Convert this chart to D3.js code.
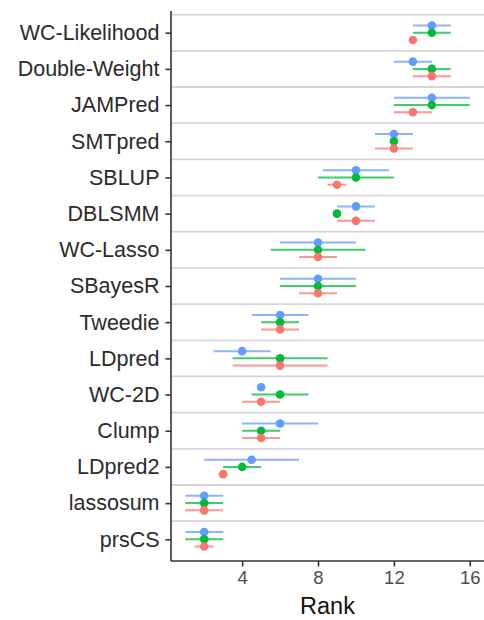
<!DOCTYPE html>
<html>
<head>
<meta charset="utf-8">
<script src="https://cdn.jsdelivr.net/npm/d3@7"></script>
<style>
  html, body { margin: 0; padding: 0; background: #fff; }
  svg { display: block; font-family: "Liberation Sans", Arial, Helvetica, sans-serif; }
</style>
</head>
<body>
<script>
// Methods, top to bottom
const methods = ["WC-Likelihood", "Double-Weight", "JAMPred", "SMTpred", "SBLUP", "DBLSMM",
  "WC-Lasso", "SBayesR", "Tweedie", "LDpred", "WC-2D", "Clump", "LDpred2", "lassosum", "prsCS"];

// Series order within a row (top to bottom) and their colours
const seriesNames = ["blue", "green", "red"];
const seriesColors = ["#619CFF", "#00BA38", "#F8766D"];

// Median rank and interval per method, one array per series
const blueRank = [14, 13, 14, 12, 10, 10, 8, 8, 6, 4, 5, 6, 4.5, 2, 2];
const blueLow  = [13, 12, 12, 11, 8.25, 9, 6, 6, 4.5, 2.5, 5, 4, 2, 1, 1];
const blueHigh = [15, 14, 16, 13, 11.75, 11, 10, 10, 7.5, 5.5, 5, 8, 7, 3, 3];

const greenRank = [14, 14, 14, 12, 10, 9, 8, 8, 6, 6, 6, 5, 4, 2, 2];
const greenLow  = [13, 13, 12, 12, 8, 9, 5.5, 6, 5, 3.5, 4.5, 4, 3, 1, 1];
const greenHigh = [15, 15, 16, 12, 12, 9, 10.5, 10, 7, 8.5, 7.5, 6, 5, 3, 3];

const redRank = [13, 14, 13, 12, 9, 10, 8, 8, 6, 6, 5, 5, 3, 2, 2];
const redLow  = [13, 13, 12, 11, 8.5, 9, 7, 7, 5, 3.5, 4, 4, 3, 1, 1.5];
const redHigh = [13, 15, 14, 13, 9.5, 11, 9, 9, 7, 8.5, 6, 6, 3, 3, 2.5];

const xTicks = [4, 8, 12, 16];
const xTitle = "Rank";

const rows = [];
[[blueRank, blueLow, blueHigh], [greenRank, greenLow, greenHigh], [redRank, redLow, redHigh]]
  .forEach(([r, lo, hi], s) => {
    methods.forEach((m, i) => rows.push({ method: m, series: seriesNames[s], color: seriesColors[s],
      rank: r[i], low: lo[i], high: hi[i] }));
  });

const W = 484, H = 620;
const margin = { top: 11, right: 0, bottom: 59, left: 171 };
const iw = W - margin.left - margin.right;
const ih = H - margin.top - margin.bottom;

const svg = d3.select("body").append("svg").attr("width", W).attr("height", H);
const g = svg.append("g").attr("transform", `translate(${margin.left},${margin.top})`);

const x = d3.scaleLinear().domain([0.25, 16.75]).range([0, iw]);
const y = d3.scalePoint().domain(methods).range([0, ih]).padding(0.6);
const step = y.step();
const dodge = d3.scalePoint().domain(seriesNames).range([-0.2 * step, 0.2 * step]);

// Row separators
g.append("g").selectAll("line").data(methods).join("line")
  .attr("x1", 0).attr("x2", iw)
  .attr("y1", d => y(d) - step / 2).attr("y2", d => y(d) - step / 2)
  .attr("stroke", "#d6d6d6").attr("stroke-width", 1.8);

// Interval bars
g.append("g").selectAll("line").data(rows.filter(d => d.high > d.low)).join("line")
  .attr("x1", d => x(d.low)).attr("x2", d => x(d.high))
  .attr("y1", d => y(d.method) + dodge(d.series)).attr("y2", d => y(d.method) + dodge(d.series))
  .attr("stroke", d => d.color).attr("stroke-width", 2).attr("stroke-opacity", 0.75);

// Median points
g.append("g").selectAll("circle").data(rows).join("circle")
  .attr("cx", d => x(d.rank)).attr("cy", d => y(d.method) + dodge(d.series))
  .attr("r", 4.3).attr("fill", d => d.color);

// Axes
const axisColor = "#333";
const xAxis = g.append("g").attr("transform", `translate(0,${ih})`)
  .call(d3.axisBottom(x).tickValues(xTicks).tickSize(5.5).tickPadding(4));
xAxis.selectAll("text").attr("font-size", 18.5).attr("fill", "#4d4d4d");

const yAxis = g.append("g")
  .call(d3.axisLeft(y).tickSize(5.5).tickPadding(6));
yAxis.selectAll("text").attr("font-size", 21.5).attr("fill", "#2b2b2b");

[xAxis, yAxis].forEach(a => {
  a.select(".domain").attr("stroke", axisColor).attr("stroke-width", 1.6);
  a.selectAll(".tick line").attr("stroke", axisColor).attr("stroke-width", 1.6);
  a.attr("font-family", null);
});
// Left axis runs the full panel height
yAxis.select(".domain").attr("d", `M0,0V${ih}`);
xAxis.select(".domain").attr("d", `M0,0H${iw}`);

svg.append("text")
  .attr("x", margin.left + iw / 2).attr("y", 614)
  .attr("text-anchor", "middle").attr("font-size", 23.5).attr("fill", "#111")
  .text(xTitle);
</script>
</body>
</html>
